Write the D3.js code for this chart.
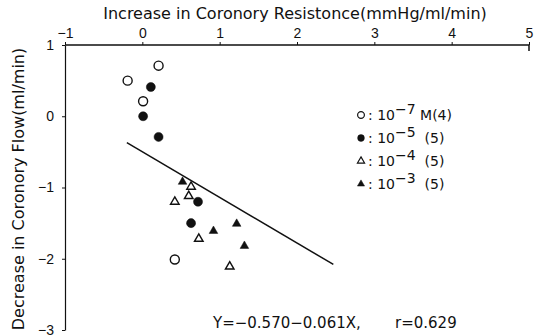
<!DOCTYPE html>
<html>
<head>
<meta charset="utf-8">
<script src="https://cdn.jsdelivr.net/npm/d3@7"></script>
<style>
  body { margin: 0; background: #fff; }
  svg { display: block; font-family: "DejaVu Sans", sans-serif; }
</style>
</head>
<body>
<div id="chart"></div>
<script>
// Data
const xTicks = [-1, 0, 1, 2, 3, 4, 5];
const yTicks = [1, 0, -1, -2, -3];

const openCircleX = [0.21, -0.19, 0.01, 0.42];
const openCircleY = [0.71, 0.50, 0.21, -2.01];
const filledCircleX = [0.11, 0.01, 0.21, 0.72, 0.63];
const filledCircleY = [0.41, 0.00, -0.29, -1.20, -1.50];
const openTriX = [0.63, 0.60, 0.42, 0.73, 1.13];
const openTriY = [-0.99, -1.12, -1.20, -1.72, -2.11];
const filledTriX = [0.52, 0.92, 1.22, 1.32];
const filledTriY = [-0.92, -1.61, -1.51, -1.82];

const fitX = [-0.2, 2.47];
const fitY = [-0.37, -2.08];

const legendExp = ["−7", "−5", "−4", "−3"];
const legendN = [" M(4)", "  (5)", "  (5)", "  (5)"];

const W = 534, H = 335;
const x = d3.scaleLinear().domain([-1, 5]).range([65, 529]);
const y = d3.scaleLinear().domain([-3, 1]).range([330, 45]);

const svg = d3.select("#chart").append("svg")
    .attr("width", W).attr("height", H);

// top axis
const xAxis = svg.append("g")
    .attr("transform", `translate(0,${y(1)})`)
    .call(d3.axisTop(x).tickValues(xTicks).tickFormat(d3.format("d"))
        .tickSize(3).tickSizeOuter(0).tickPadding(4));
xAxis.select(".domain").attr("stroke", "#111").attr("stroke-width", 1.5)
    .attr("d", `M${x(-1)},0H${x(5)}V6`);
xAxis.selectAll("text").style("font-size", "14px").attr("fill", "#111");
xAxis.selectAll("line").attr("stroke", "#111");

// left axis
const yAxis = svg.append("g")
    .attr("transform", `translate(${x(-1)},0)`)
    .call(d3.axisLeft(y).tickValues(yTicks).tickFormat(d3.format("d"))
        .tickSize(3).tickSizeOuter(0).tickPadding(8));
yAxis.select(".domain").attr("stroke", "#111").attr("stroke-width", 1.2);
yAxis.selectAll("text").style("font-size", "14px").attr("fill", "#111");
yAxis.selectAll("line").attr("stroke", "#111");

// axis titles
svg.append("text")
    .attr("x", 295).attr("y", 19)
    .attr("text-anchor", "middle")
    .style("font-size", "16px")
    .attr("fill", "#111")
    .text("Increase in Coronory Resistonce(mmHg/ml/min)");

svg.append("text")
    .attr("transform", `translate(24,189)rotate(-90)`)
    .attr("text-anchor", "middle")
    .style("font-size", "16px")
    .attr("fill", "#111")
    .text("Decrease in Coronory Flow(ml/min)");

// regression line
svg.append("line")
    .attr("x1", x(fitX[0])).attr("y1", y(fitY[0]))
    .attr("x2", x(fitX[1])).attr("y2", y(fitY[1]))
    .attr("stroke", "#111").attr("stroke-width", 1.5);

// markers
const circleSym = d3.symbol().type(d3.symbolCircle).size(64);
const triSym = d3.symbol().type(d3.symbolTriangle).size(32);

const series = [
    { xs: openCircleX, ys: openCircleY, sym: circleSym, filled: false },
    { xs: filledCircleX, ys: filledCircleY, sym: circleSym, filled: true },
    { xs: openTriX, ys: openTriY, sym: triSym, filled: false },
    { xs: filledTriX, ys: filledTriY, sym: triSym, filled: true }
];

series.forEach(s => {
    svg.append("g").selectAll("path")
        .data(s.xs.map((v, i) => [v, s.ys[i]]))
        .enter().append("path")
        .attr("transform", d => `translate(${x(d[0])},${y(d[1])})`)
        .attr("d", s.sym())
        .attr("fill", s.filled ? "#111" : "#fff")
        .attr("stroke", "#111")
        .attr("stroke-width", s.filled ? 0.5 : 1.4);
});

// legend
const legend = svg.append("g");
const rowY = [115, 138, 161, 184];
series.forEach((s, i) => {
    legend.append("path")
        .attr("transform", `translate(361,${rowY[i]})`)
        .attr("d", (i < 2 ? d3.symbol().type(d3.symbolCircle).size(36) : d3.symbol().type(d3.symbolTriangle).size(22))())
        .attr("fill", s.filled ? "#111" : "#fff")
        .attr("stroke", "#111")
        .attr("stroke-width", s.filled ? 0.5 : 1.2);
    const t = legend.append("text")
        .attr("x", 368).attr("y", rowY[i] + 5)
        .style("font-size", "14px")
        .attr("fill", "#111")
        .attr("xml:space", "preserve");
    t.append("tspan").text(": 10");
    t.append("tspan").attr("dy", -6).text(legendExp[i]);
    t.append("tspan").attr("dy", 6).text(legendN[i]);
});

// equation
svg.append("text")
    .attr("x", 213).attr("y", 328)
    .style("font-size", "15px")
    .attr("fill", "#111")
    .text("Y=−0.570−0.061X,");
svg.append("text")
    .attr("x", 395).attr("y", 328)
    .style("font-size", "15px")
    .attr("fill", "#111")
    .text("r=0.629");
</script>
</body>
</html>
